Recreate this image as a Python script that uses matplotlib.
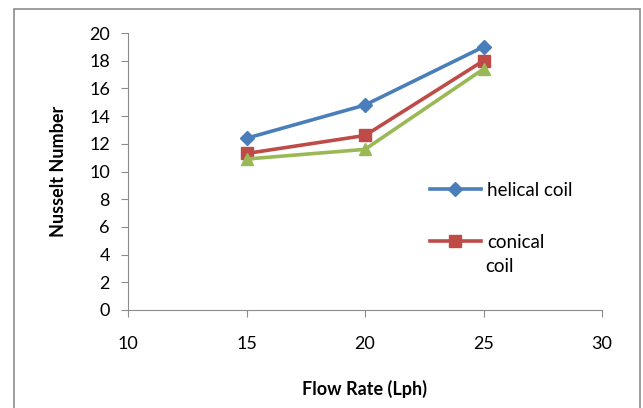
import matplotlib.pyplot as plt
from matplotlib.patches import Rectangle

flow = [15, 20, 25]
helical = [12.4, 14.8, 19.0]
conical = [11.3, 12.6, 18.0]
third = [10.9, 11.6, 17.4]

plt.rcParams['font.family'] = ['Lato', 'DejaVu Sans']

fig = plt.figure(figsize=(6.43, 4.08), dpi=100)
ax = fig.add_axes([128/643, 1 - 310/408, (602-128)/643, (310-33)/408])

# outer chart frame, open at the bottom
fig.patches.append(Rectangle((14/643, -0.05), (640-14)/643, 1.05 - 9/408,
                             transform=fig.transFigure, fill=False,
                             edgecolor='#8c8c8c', linewidth=1.2))

l1, = ax.plot(flow, helical, color='#4a7ebb', lw=2.6, marker='D', ms=7,
              label='helical coil')
l2, = ax.plot(flow, conical, color='#be4b48', lw=2.6, marker='s', ms=8,
              label='conical')
ax.plot(flow, third, color='#98b954', lw=2.6, marker='^', ms=9)

ax.set_xlim(10, 30)
ax.set_ylim(0, 20)
ax.set_xticks(range(10, 31, 5))
ax.set_yticks(range(0, 21, 2))
for s in ['top', 'right']:
    ax.spines[s].set_visible(False)
for s in ['left', 'bottom']:
    ax.spines[s].set_color('#8c8c8c')
ax.tick_params(colors='#8c8c8c', labelcolor='black', labelsize=13, length=5)
ax.tick_params(axis='x', pad=14)
ax.tick_params(axis='y', pad=8)

ax.set_xlabel('Flow Rate (Lph)', fontsize=13, fontweight='bold', labelpad=20)
ax.set_ylabel('Nusselt Number', fontsize=13, fontweight='bold', labelpad=16)

leg = ax.legend(handles=[l1, l2], loc='upper left',
                bbox_to_anchor=(413/643, 1 - 165/408),
                bbox_transform=fig.transFigure, frameon=False, fontsize=13.5,
                handlelength=2.7, labelspacing=1.85, handletextpad=0.35)
# wrapped second line of the conical entry
fig.text(485/643, 1 - 266/408, 'coil', fontsize=13.5, va='center', ha='left')

fig.savefig('out.png', dpi=100)
